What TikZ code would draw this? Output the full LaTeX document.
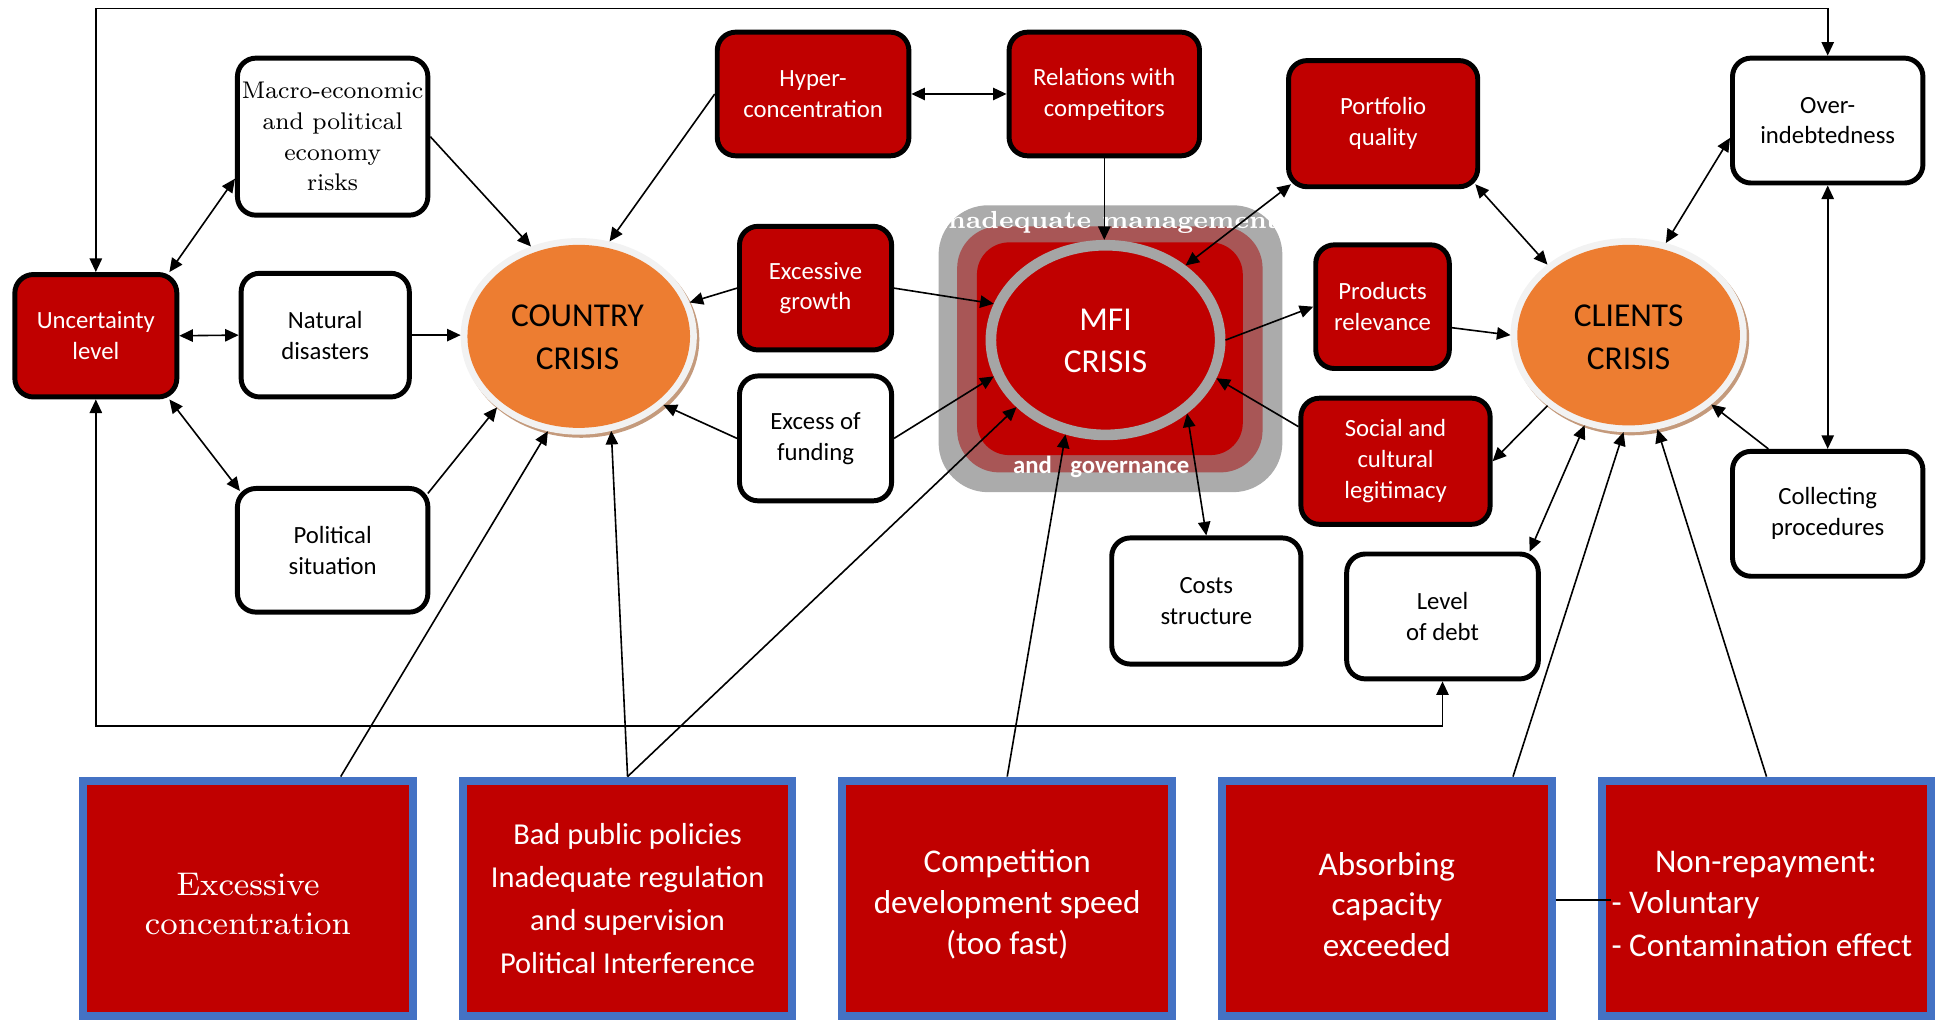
\documentclass[tikz,border=0pt]{standalone}
\usepackage{fontspec}
\newfontfamily\carl{Carlito}
\newfontfamily\lmeig{lmroman8-regular.otf}
\newfontfamily\lmsevbf{lmroman7-bold.otf}
\usetikzlibrary{arrows.meta,shapes.geometric,calc}
\definecolor{mfired}{HTML}{C00000}
\definecolor{crisisorange}{HTML}{ED7D31}
\definecolor{ringwhite}{HTML}{F2F2F2}
\definecolor{shadowbrown}{HTML}{C49A7C}
\definecolor{ringgray}{HTML}{A5A5A5}
\definecolor{boxblue}{HTML}{4472C4}
\definecolor{layerouter}{HTML}{ABABAB}
\definecolor{layermid}{HTML}{A85656}
\tikzset{
  box/.style={draw=black, line width=4pt, rounded corners=15pt, inner sep=0pt, align=center,
    font=\carl\fontsize{20}{25}\selectfont},
  redbox/.style={box, fill=mfired, text=white},
  whitebox/.style={box, fill=white, text=black},
  sz/.style 2 args={minimum width=#1pt, minimum height=#2pt},
  botbox/.style={draw=boxblue, line width=6.5pt, fill=mfired, minimum width=266.5pt,
    minimum height=190.5pt, inner sep=0pt, text=white, align=center},
  bottext/.style={text=white, inner sep=0pt, align=center},
  ring/.style={ellipse, fill=ringwhite, inner sep=0pt, outer sep=0pt},
  crisistxt/.style={align=center, inner sep=0pt, font=\carl\fontsize{27}{35}\selectfont},
  bottxt/.style={font=\carl\fontsize{26.8}{33}\selectfont},
  con/.style={line width=1.3pt, draw=black},
  arr/.style={con, -{Triangle[length=11pt,width=10pt]}},
  dbl/.style={con, {Triangle[length=11pt,width=10pt]}-{Triangle[length=11pt,width=10pt]}},
}
\begin{document}
\begin{tikzpicture}[x=1pt,y=-1pt]
\useasboundingbox (0,0) rectangle (1568,825);

% ---------- MFI block background ----------
\fill[layerouter, rounded corners=40pt] (759,166) rectangle (1037,398);
\fill[layermid, rounded corners=34pt] (774,183) rectangle (1021,382);
\fill[mfired, rounded corners=26pt] (790,196) rectangle (1005,368);
\node[anchor=base, text=white, inner sep=0pt, font=\lmsevbf\fontsize{20}{24}\selectfont]
  (mgmt) at (895.5,185) {Inadequate management};
\node[anchor=base west, text=white, inner sep=0pt, font=\carl\bfseries\fontsize{20}{24}\selectfont]
  (gov) at (819,383) {and\hspace*{15pt}governance};
\node[ellipse, inner sep=0pt, outer sep=0pt, minimum width=194pt, minimum height=162pt] (mfi) at (894,275) {};
\draw[ringgray, line width=8.6pt, fill=mfired] (mfi.center) ellipse [x radius=92.7, y radius=76.7];
\node[crisistxt, text=white, font=\carl\fontsize{27}{34}\selectfont] (mfit) at (894,276) {MFI\\CRISIS};

% ---------- crisis ellipses ----------
\fill[shadowbrown] (470,274.5) ellipse [x radius=95.5, y radius=79.5];
\node[ring, minimum width=191pt, minimum height=159pt] (cc) at (468,272) {};
\fill[crisisorange] (cc.center) ellipse [x radius=90, y radius=74];
\node[crisistxt] (cct) at (467,273) {COUNTRY\\CRISIS};

\fill[shadowbrown] (1319,273.5) ellipse [x radius=95.5, y radius=78.5];
\node[ring, minimum width=191pt, minimum height=157pt] (cl) at (1317,271) {};
\fill[crisisorange] (cl.center) ellipse [x radius=90, y radius=73];
\node[crisistxt] (clt) at (1317,273) {CLIENTS\\CRISIS};

% ---------- boxes ----------
\node[redbox, sz={131}{99}] (unc) at (77.5,271.5) {Uncertainty\\level};
\node[whitebox, sz={154}{127}, font=\lmeig\fontsize{19.5}{24.8}\selectfont] (macro) at (269,110.5)
  {Macro-economic\\and political\\economy\\risks};
\node[whitebox, sz={136}{100}] (nat) at (263,271) {Natural\\disasters};
\node[whitebox, sz={154}{100}] (pol) at (269,445) {Political\\situation};
\node[redbox, sz={155}{100}] (hyper) at (657.5,76) {Hyper-\\concentration};
\node[redbox, sz={154}{100}] (rel) at (893,76) {Relations with\\competitors};
\node[redbox, sz={123}{100}] (exg) at (659.5,233) {Excessive\\growth};
\node[whitebox, sz={123}{101}] (exf) at (659.5,354.5) {Excess of\\funding};
\node[redbox, sz={153}{102}] (port) at (1118.5,100) {Portfolio\\quality};
\node[redbox, sz={108}{100}] (prod) at (1118,248) {Products\\relevance};
\node[redbox, sz={153}{102}] (soc) at (1128.5,373) {Social and\\cultural\\legitimacy};
\node[whitebox, sz={153}{102}] (cost) at (975.5,486) {Costs\\structure};
\node[whitebox, sz={155}{101}] (debt) at (1166.5,498.5) {Level\\of debt};
\node[whitebox, sz={154}{101}] (over) at (1478,97.5) {Over-\\indebtedness};
\node[whitebox, sz={154}{101}] (coll) at (1478,415.5) {Collecting\\procedures};

% ---------- bottom boxes ----------
\node[botbox] (b1) at (200.5,726.5) {};
\node[bottext, font=\lmeig\fontsize{26.5}{31}\selectfont] (b1t) at (200.5,731) {Excessive\\concentration};
\node[botbox, font=\carl\fontsize{24.6}{34.7}\selectfont] (b2) at (507.5,726.5)
  {Bad public policies\\Inadequate regulation\\and supervision\\Political Interference};
\node[botbox] (b3) at (814.5,726.5) {};
\node[bottext, bottxt] (b3t) at (814.5,731.5) {Competition\\development speed\\(too fast)};
\node[botbox] (b4) at (1121.5,726.5) {};
\node[bottext, bottxt] (b4t) at (1121.5,731.5) {Absorbing\\capacity\\exceeded};
\node[botbox] (b5) at (1428.5,726.5) {};
\node[bottext, bottxt] (nonrep) at (1428,699.5) {Non-repayment:};
\node[bottext, bottxt, anchor=west] (vol) at (1303,731.5) {- Voluntary};
\node[bottext, bottxt, anchor=west] (cont) at (1303,764.5) {- Contamination effect};

% ---------- connectors ----------
\coordinate (topy) at (0,7);
\coordinate (boty) at (0,587);
\draw[dbl] (unc.north) -- (unc.north |- topy) -| (over.north);
\draw[dbl] (unc.south) -- (unc.south |- boty) -| (debt.south);
\draw[dbl] ([xshift=-8pt]unc.north east) -- ([yshift=-34pt]macro.west);
\draw[dbl] (unc.east) -- (nat.west);
\draw[dbl] ([xshift=-8pt]unc.south east) -- ([xshift=4pt,yshift=-4pt]pol.north west);
\draw[arr] (macro.east) -- (cc.118);
\draw[arr] (nat.east) -- (cc.west |- nat.east);
\draw[arr] ([xshift=-2pt,yshift=-6pt]pol.north east) -- (cc.221);
\draw[arr] (hyper.west) -- (cc.72);
\draw[dbl] (hyper.east) -- (rel.west);
\draw[arr] (rel.south) -- (rel.south |- mfi.north);
\draw[arr] (exg.west) -- (cc.17);
\draw[arr] (exg.east) -- (mfi.162);
\draw[arr] (exf.west) -- (cc.-39);
\draw[arr] (exf.east) -- (mfi.198);
\draw[arr] ([xshift=75pt]b1.north) -- (cc.252);
\draw[arr] (b2.north) -- (cc.-71);
\draw[arr] (b2.north) -- (mfi.217);
\draw[arr] (b3.north) -- (mfi.247);
\draw[dbl] (mfi.43) -- ([xshift=4pt,yshift=4pt]port.south west);
\draw[arr] (mfi.east) -- (prod.west);
\draw[arr] ([yshift=28pt]soc.west) -- (mfi.-19);
\draw[dbl] (mfi.-42) -- (cost.north);
\draw[dbl] ([xshift=-4pt,yshift=4pt]port.south east) -- (cl.139);
\draw[arr] ([yshift=-17pt]prod.east) -- (cl.west);
\draw[arr] (cl.221) -- (soc.east);
\draw[dbl] (cl.68) -- ([yshift=-14pt]over.west);
\draw[dbl] (over.south) -- (coll.north);
\draw[arr] ([xshift=-48pt]coll.north) -- (cl.-40);
\draw[dbl] ([xshift=-9pt]debt.north east) -- (cl.244);
\draw[arr] ([xshift=102pt]b4.north) -- (cl.267);
\draw[arr] (b5.north) -- (cl.-73);
\draw[con] ([yshift=3.5pt]vol.west -| b4.east) -- ([yshift=3.5pt]vol.west);
\end{tikzpicture}
\end{document}
